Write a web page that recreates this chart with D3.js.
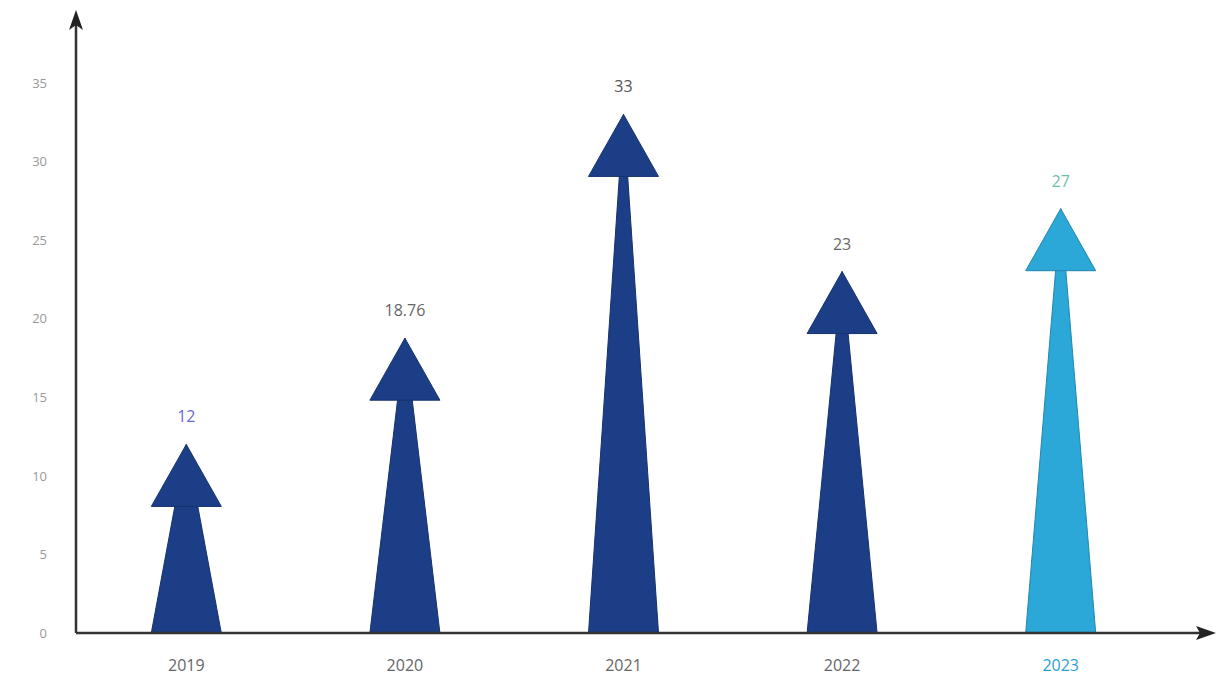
<!DOCTYPE html>
<html>
<head>
<meta charset="utf-8">
<script src="https://cdn.jsdelivr.net/npm/d3@7"></script>
<style>
html,body{margin:0;padding:0;background:#fff;}
svg{display:block;font-family:"Open Sans",Arial,sans-serif;}
</style>
</head>
<body>
<svg id="chart" width="1219" height="682"></svg>
<script>
const categories = ["2019", "2020", "2021", "2022", "2023"];
const values = [12, 18.76, 33, 23, 27];
const valueLabels = ["12", "18.76", "33", "23", "27"];
const yTicks = [0, 5, 10, 15, 20, 25, 30, 35];
const fillColors = ["#1b3e86", "#1b3e86", "#1b3e86", "#1b3e86", "#2ba7d8"];
const labelColors = ["#6b68d4", "#666666", "#555555", "#666666", "#6fbfa8"];
const xLabelColors = ["#666666", "#666666", "#666666", "#666666", "#2a9fd6"];

const svg = d3.select("#chart");
const x0 = 76, yBase = 633;
const x = d3.scaleBand().domain(categories).range([77, 1170]).paddingInner(0).paddingOuter(0);
const y = d3.scaleLinear().domain([0, 35]).range([yBase, 83]);

const halfW = 35, headH = 62;

const g = svg.append("g");
categories.forEach((c, i) => {
  const cx = x(c) + x.bandwidth() / 2;
  const tip = y(values[i]);
  const y0 = y(0);
  const stroke = d3.color(fillColors[i]).darker(0.6);
  g.append("path")
    .attr("d", `M${cx - halfW},${y0} L${cx},${tip} L${cx + halfW},${y0} Z`)
    .attr("fill", fillColors[i])
    .attr("stroke", stroke)
    .attr("stroke-width", 1);
  g.append("path")
    .attr("d", `M${cx - halfW},${tip + headH} L${cx},${tip} L${cx + halfW},${tip + headH} Z`)
    .attr("fill", fillColors[i])
    .attr("stroke", stroke)
    .attr("stroke-width", 1);
  svg.append("text")
    .attr("x", cx)
    .attr("y", tip - 22)
    .attr("text-anchor", "middle")
    .attr("font-size", 16)
    .attr("fill", labelColors[i])
    .text(valueLabels[i]);
});

const yAxis = d3.axisLeft(y).tickValues(yTicks).tickSize(0).tickPadding(0);
const ya = svg.append("g").attr("transform", "translate(47,0)").call(yAxis);
ya.select(".domain").remove();
ya.selectAll("text").attr("font-size", 13).attr("fill", "#999").attr("font-family", "Open Sans, Arial, sans-serif");

const xAxis = d3.axisBottom(x).tickSize(0).tickPadding(0);
const xa = svg.append("g").attr("transform", `translate(0,${yBase + 27})`).call(xAxis);
xa.select(".domain").remove();
xa.selectAll("text").attr("font-size", 16).attr("fill", (d, i) => xLabelColors[i]).attr("font-family", "Open Sans, Arial, sans-serif");

svg.append("line").attr("x1", x0).attr("y1", yBase).attr("x2", x0).attr("y2", 20)
  .attr("stroke", "#333").attr("stroke-width", 2.5);
svg.append("path").attr("d", `M${x0 - 7},${30} L${x0},${10} L${x0 + 7},${30} L${x0},${25} Z`).attr("fill", "#222");
svg.append("line").attr("x1", x0).attr("y1", yBase).attr("x2", 1205).attr("y2", yBase)
  .attr("stroke", "#333").attr("stroke-width", 2.5);
svg.append("path").attr("d", `M1196,${yBase - 7} L1216,${yBase} L1196,${yBase + 7} L1200,${yBase} Z`).attr("fill", "#222");
</script>
</body>
</html>
